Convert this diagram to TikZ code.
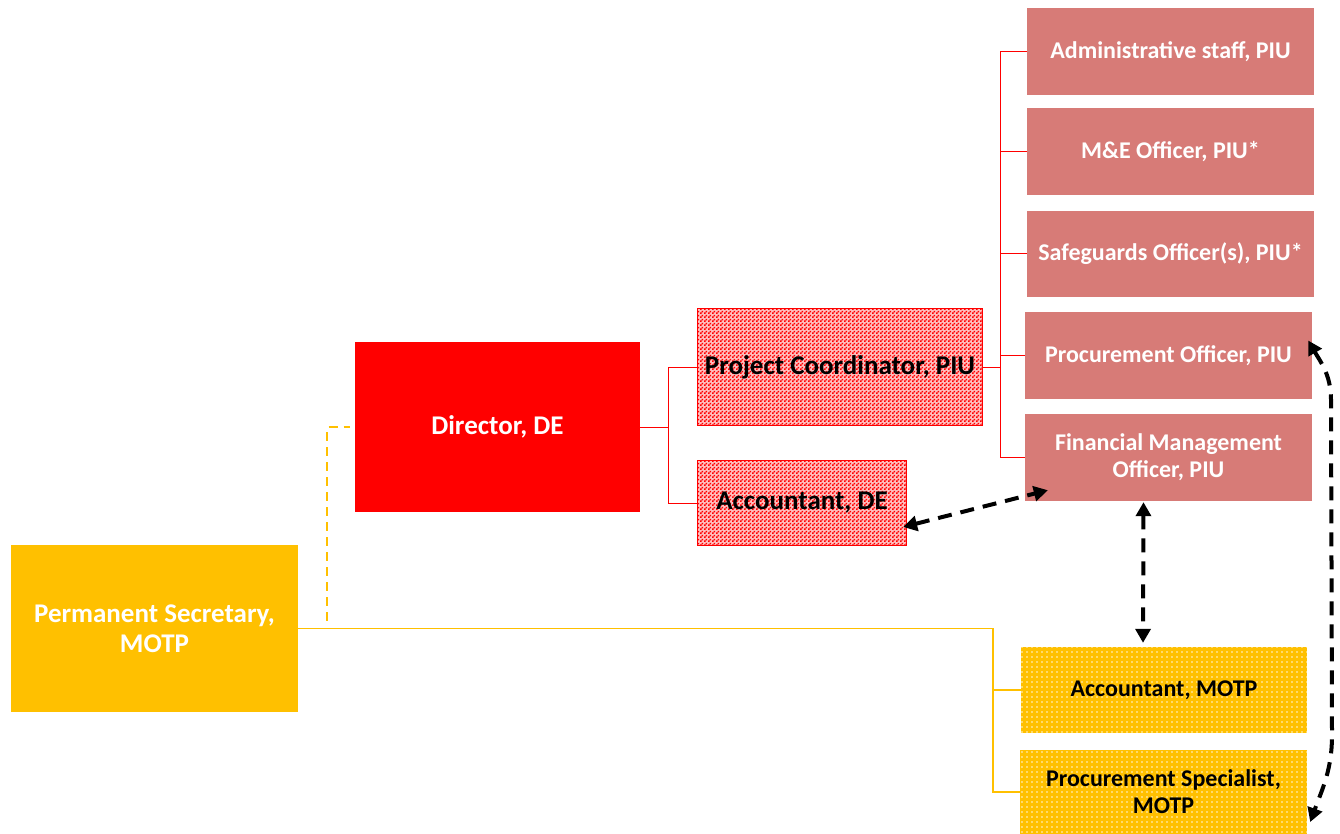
\documentclass[tikz,border=0pt]{standalone}
\usepackage{fontspec}
\setmainfont{Carlito}
\usetikzlibrary{arrows.meta,calc,patterns}
\definecolor{yel}{RGB}{255,192,0}
\definecolor{pink}{RGB}{215,123,119}
\definecolor{pred}{RGB}{255,0,0}
\pgfdeclarepatternformonly{checker}{\pgfpointorigin}{\pgfpoint{4pt}{4pt}}{\pgfpoint{4pt}{4pt}}{%
  \pgfpathrectangle{\pgfpointorigin}{\pgfpoint{2pt}{2pt}}%
  \pgfpathrectangle{\pgfpoint{2pt}{2pt}}{\pgfpoint{2pt}{2pt}}%
  \pgfusepath{fill}}
\pgfdeclarepatternformonly{wdots}{\pgfpointorigin}{\pgfpoint{5pt}{5pt}}{\pgfpoint{5pt}{5pt}}{%
  \pgfpathrectangle{\pgfpoint{1.5pt}{1.5pt}}{\pgfpoint{1.6pt}{1.6pt}}%
  \pgfusepath{fill}}
\tikzset{
  box/.style={rectangle, inner sep=2pt, align=center, font=\fontsize{27}{30}\selectfont\bfseries},
  sbox/.style={font=\fontsize{24}{27}\selectfont\bfseries},
  solidbox/.style={box, fill=#1, text=white},
  checkbox/.style={box, draw=pred, line width=1.2pt, fill=pred!25, text=black,
     postaction={pattern=checker, pattern color=pred}},
  dotbox/.style={box, sbox, fill=yel, text=black, postaction={pattern=wdots, pattern color=white}},
  redline/.style={draw=pred, line width=1pt},
  yline/.style={draw=yel, line width=1.5pt},
  ydash/.style={draw=yel, line width=1.8pt, dash pattern=on 9pt off 6pt},
  darrow/.style={draw=black, line width=4pt, dash pattern=on 14pt off 9pt,
     {Triangle[length=14pt,width=15pt]}-{Triangle[length=14pt,width=15pt]}}
}
\begin{document}
\begin{tikzpicture}[x=1pt,y=-1pt]
\useasboundingbox (0,0) rectangle (1340,834);
% boxes
\node[solidbox=yel, minimum width=287pt, minimum height=167pt] (ps) at (154.5,628.5) {Permanent Secretary,\\MOTP};
\node[solidbox=pred, minimum width=285pt, minimum height=170pt] (dir) at (497.5,427) {Director, DE};
\node[checkbox, minimum width=285pt, minimum height=117pt] (pc) at (840,367) {Project Coordinator, PIU};
\node[checkbox, minimum width=209pt, minimum height=85pt] (accde) at (802,503) {Accountant, DE};
\node[solidbox=pink, sbox, minimum width=287pt, minimum height=87pt] (adm) at (1170.5,51.5) {Administrative staff, PIU};
\node[solidbox=pink, sbox, minimum width=287pt, minimum height=87pt] (me) at (1170.5,151.5) {M\&E Officer, PIU*};
\node[solidbox=pink, sbox, minimum width=287pt, minimum height=86pt] (saf) at (1170.5,254) {Safeguards Officer(s), PIU*};
\node[solidbox=pink, sbox, minimum width=287pt, minimum height=87pt] (po) at (1168.5,355.5) {Procurement Officer, PIU};
\node[solidbox=pink, sbox, minimum width=287pt, minimum height=87pt] (fmo) at (1168.5,457.5) {Financial Management\\Officer, PIU};
\node[dotbox, minimum width=286pt, minimum height=86pt] (accm) at (1164,690) {Accountant, MOTP};
\node[dotbox, minimum width=287pt, minimum height=84pt] (ps2) at (1163.5,792) {Procurement Specialist,\\MOTP};
% junctions
\coordinate (rj) at (668,427);
\coordinate (bx) at (1000,0);
\coordinate (yx) at (993,0);
\coordinate (dx) at (327,0);
% red connectors
\draw[redline] (dir.east) -- (rj);
\draw[redline] (pc.west) -| (rj) |- (accde.west);
\draw[redline] (pc.east) -- (pc.east -| bx);
\draw[redline] (adm.west -| bx) -- (fmo.west -| bx);
\foreach \n in {adm,me,saf,po,fmo} \draw[redline] (\n.west) -- (\n.west -| bx);
% yellow connectors
\draw[yline] (ps.east) -- (ps.east -| yx) |- (ps2.west);
\draw[yline] (accm.west) -- (accm.west -| yx);
\draw[ydash] ($(ps.east -| dx)+(0,-8)$) |- ($(dir.west)+(-5,0)$);
% dashed arrows
\coordinate (a1) at ($(accde.east)+(-4,24)$);
\coordinate (a2) at ($(fmo.south west)+(23,-11)$);
\draw[darrow] (a1) -- (a2);
\coordinate (b1) at ($(fmo.south)+(-25,1)$);
\coordinate (b2) at ($(accm.north)+(-21,-4)$);
\draw[darrow] (b1) -- (b2);
\coordinate (c1) at ($(po.east)+(-4,-15)$);
\coordinate (c2) at ($(ps2.east)+(3,30)$);
\draw[darrow] (c1) to[out=-60,in=90] (1331,400) -- (1332,735) to[out=-90,in=70] (c2);
\end{tikzpicture}
\end{document}
